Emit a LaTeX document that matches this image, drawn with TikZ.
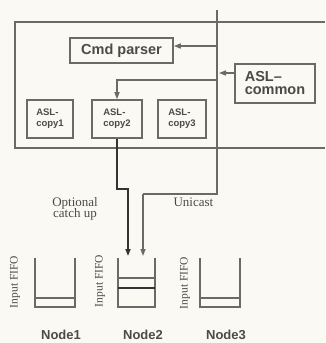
\documentclass[tikz,border=0pt]{standalone}
\usepackage{fontspec}
\setmainfont{Liberation Serif}
\setsansfont{Liberation Sans}
\usetikzlibrary{arrows.meta}
\definecolor{bg}{HTML}{FAF9F4}
\definecolor{ln}{HTML}{6A6A66}
\definecolor{dk}{HTML}{333333}
\definecolor{tx}{HTML}{4A4A48}
\begin{document}
\begin{tikzpicture}[x=1pt,y=-1pt,
  box/.style={draw=ln, line width=1.6pt, inner sep=0pt},
  bigtxt/.style={font=\sffamily\bfseries\fontsize{14.5}{15}\selectfont, text=tx},
  smtxt/.style={font=\sffamily\bfseries\fontsize{9.5}{11}\selectfont, text=tx, align=left},
  ann/.style={font=\rmfamily\fontsize{13}{13.5}\selectfont, text=tx, align=center},
  fifotxt/.style={font=\rmfamily\fontsize{11.5}{12}\selectfont, text=tx, rotate=90},
  nodetxt/.style={font=\sffamily\bfseries\fontsize{13}{13}\selectfont, text=tx},
  bus/.style={draw=ln, line width=1.4pt},
  thick/.style={draw=dk, line width=1.6pt},
  tip/.style={-{Triangle[length=7pt,width=5pt]}},
  fifo/.style={draw=ln, line width=1.5pt}]
\useasboundingbox (0,0) rectangle (325,343);
\fill[bg] (0,0) rectangle (325,343);

% big enclosing box (open to the right, cut by the page edge)
\draw[box, line cap=butt] (325,22) -- (15,22) -- (15,148) -- (325,148);

% boxes
\node[box, minimum width=103pt, minimum height=25pt, bigtxt] (cmd) at (121.5,50.5) {Cmd parser};
\node[box, minimum width=80pt, minimum height=39pt, bigtxt, align=left] (com) at (275,83.5) {ASL--\\[-2pt]common};
\node[box, minimum width=46pt, minimum height=38pt, smtxt] (c1) at (50,119) {ASL-\\copy1};
\node[box, minimum width=50pt, minimum height=38pt, smtxt] (c2) at (117,119) {ASL-\\copy2};
\node[box, minimum width=48pt, minimum height=38pt, smtxt] (c3) at (182,119) {ASL-\\copy3};

% bus coordinates
\coordinate (btop) at (217,10);
\coordinate (bcmd) at (217,46);
\coordinate (bcom) at (219,73);
\coordinate (bc2) at (217,80);
\coordinate (bbend) at (217,194);
\coordinate (ubend) at (143,194);

% FIFOs
\coordinate (f1tl) at (35,258); \coordinate (f1br) at (75,307);
\coordinate (f2tl) at (118,258); \coordinate (f2br) at (155,307);
\coordinate (f3tl) at (200,258); \coordinate (f3br) at (240,307);
\draw[fifo] (f1tl) |- (f1br) -- (75,258);
\draw[fifo] (35,298) -- (75,298);
\draw[fifo] (f2tl) |- (f2br) -- (155,258);
\draw[fifo] (118,278) -- (155,278);
\draw[draw=dk, line width=2.2pt] (118,288) -- (155,288);
\draw[fifo] (f3tl) |- (f3br) -- (240,258);
\draw[fifo] (200,298) -- (240,298);
\coordinate (t2a) at (128,256);
\coordinate (t2b) at (143,256);

% connectors
\draw[bus] (btop) -- (bbend) -- (ubend);
\draw[bus, tip] (ubend) -- (t2b);
\draw[bus, tip] (bcmd) -- (cmd.east |- bcmd);
\draw[bus, tip] (com.west |- bcom) -- (bcom);
\draw[bus, tip] (bc2) -| (c2.north);
\draw[thick, tip] (c2.south) |- (128,189) -- (t2a);

% labels
\node[ann] (opt) at (75,209) {Optional\\[-2pt]catch up};
\node[ann, anchor=west] (uni) at (170,202) {Unicast};
\node[fifotxt] (i1) at (15,282) {Input FIFO};
\node[fifotxt] (i2) at (100,281) {Input FIFO};
\node[fifotxt] (i3) at (185,283) {Input FIFO};
\node[nodetxt] (n1) at (61,335) {Node1};
\node[nodetxt] (n2) at (143,335) {Node2};
\node[nodetxt] (n3) at (226,335) {Node3};
\end{tikzpicture}
\end{document}
